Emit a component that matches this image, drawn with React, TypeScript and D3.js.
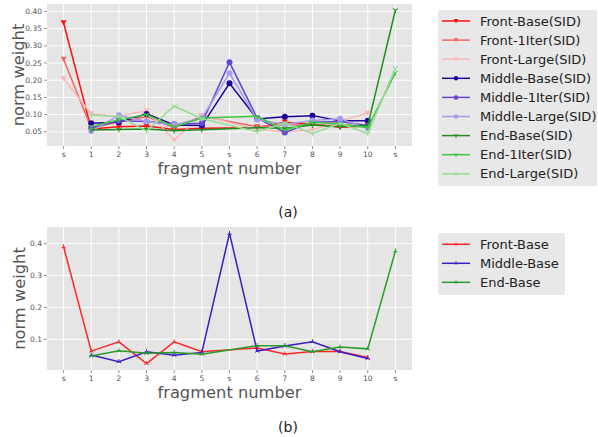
import React from "react";
import * as d3 from "d3";

const categories = ["s", "1", "2", "3", "4", "5", "s", "6", "7", "8", "9", "10", "s"];
const frontPos = [0, 1, 2, 3, 4, 5, 7, 8, 9, 10, 11];
const middlePos = [1, 2, 3, 4, 5, 6, 7, 8, 9, 10, 11];
const endPos = [1, 2, 3, 4, 5, 7, 8, 9, 10, 11, 12];

// (a)
const frontBaseSID = [0.367, 0.058, 0.065, 0.067, 0.057, 0.06, 0.062, 0.078, 0.073, 0.063, 0.067];
const front1IterSID = [0.261, 0.06, 0.08, 0.094, 0.062, 0.095, 0.065, 0.07, 0.07, 0.068, 0.07];
const frontLargeSID = [0.205, 0.102, 0.095, 0.111, 0.026, 0.097, 0.057, 0.05, 0.055, 0.082, 0.104];
const middleBaseSID = [0.075, 0.078, 0.102, 0.07, 0.068, 0.191, 0.087, 0.094, 0.097, 0.082, 0.082];
const middle1IterSID = [0.062, 0.082, 0.08, 0.072, 0.075, 0.252, 0.09, 0.048, 0.078, 0.08, 0.068];
const middleLargeSID = [0.052, 0.098, 0.08, 0.07, 0.09, 0.22, 0.085, 0.072, 0.083, 0.088, 0.06];
const endBaseSID = [0.055, 0.057, 0.058, 0.053, 0.056, 0.062, 0.06, 0.07, 0.065, 0.068, 0.404];
const end1IterSID = [0.065, 0.085, 0.1, 0.065, 0.09, 0.095, 0.055, 0.078, 0.073, 0.062, 0.222];
const endLargeSID = [0.098, 0.095, 0.052, 0.125, 0.088, 0.05, 0.075, 0.045, 0.075, 0.045, 0.235];

// (b)
const frontBase = [0.39, 0.063, 0.092, 0.024, 0.092, 0.061, 0.073, 0.054, 0.062, 0.062, 0.043];
const middleBase = [0.051, 0.03, 0.061, 0.05, 0.059, 0.432, 0.063, 0.079, 0.092, 0.061, 0.04];
const endBase = [0.048, 0.064, 0.056, 0.059, 0.053, 0.08, 0.08, 0.061, 0.076, 0.07, 0.377];

const ticksA = [0.05, 0.1, 0.15, 0.2, 0.25, 0.3, 0.35, 0.4];
const ticksB = [0.1, 0.2, 0.3, 0.4];

type Marker = "down" | "circle" | "tri1" | "tri2";
type Series = { name: string; pos: number[]; values: number[]; color: string; marker: Marker };

const seriesA: Series[] = [
  { name: "Front-Base(SID)", pos: frontPos, values: frontBaseSID, color: "#FF1010", marker: "down" },
  { name: "Front-1Iter(SID)", pos: frontPos, values: front1IterSID, color: "#F26666", marker: "down" },
  { name: "Front-Large(SID)", pos: frontPos, values: frontLargeSID, color: "#FBB8B8", marker: "down" },
  { name: "Middle-Base(SID)", pos: middlePos, values: middleBaseSID, color: "#20009A", marker: "circle" },
  { name: "Middle-1Iter(SID)", pos: middlePos, values: middle1IterSID, color: "#6545D2", marker: "circle" },
  { name: "Middle-Large(SID)", pos: middlePos, values: middleLargeSID, color: "#A99CEA", marker: "circle" },
  { name: "End-Base(SID)", pos: endPos, values: endBaseSID, color: "#1E8C1E", marker: "tri1" },
  { name: "End-1Iter(SID)", pos: endPos, values: end1IterSID, color: "#3CC83C", marker: "tri1" },
  { name: "End-Large(SID)", pos: endPos, values: endLargeSID, color: "#94DE94", marker: "tri1" },
];

const seriesB: Series[] = [
  { name: "Front-Base", pos: frontPos, values: frontBase, color: "#FF2626", marker: "tri2" },
  { name: "Middle-Base", pos: middlePos, values: middleBase, color: "#3D1CC0", marker: "tri2" },
  { name: "End-Base", pos: endPos, values: endBase, color: "#2A9A2A", marker: "tri2" },
];

const FONT = "DejaVu Sans, Verdana, sans-serif";

function MarkerShape({ m, x, y, color, size }: { m: Marker; x: number; y: number; color: string; size: number }) {
  if (m === "down") {
    const s = size;
    return <path d={`M${x - s},${y - s * 0.85}L${x + s},${y - s * 0.85}L${x},${y + s * 0.95}Z`} fill={color} />;
  }
  if (m === "circle") return <circle cx={x} cy={y} r={size} fill={color} />;
  if (m === "tri1") {
    const s = size;
    return (
      <path
        d={`M${x},${y}L${x},${y + s}M${x},${y}L${x - s * 0.87},${y - s * 0.5}M${x},${y}L${x + s * 0.87},${y - s * 0.5}`}
        stroke={color}
        strokeWidth={1}
        fill="none"
      />
    );
  }
  const s = size;
  return (
    <path
      d={`M${x},${y}L${x},${y - s}M${x},${y}L${x - s * 0.87},${y + s * 0.5}M${x},${y}L${x + s * 0.87},${y + s * 0.5}`}
      stroke={color}
      strokeWidth={1}
      fill="none"
    />
  );
}

type ChartProps = {
  series: Series[];
  left: number; right: number; top: number; bottom: number;
  yDomain: [number, number];
  yTicks: number[];
  yFormat: string;
  markerSize: number;
  yLabelX: number;
  xTickY: number;
  xLabelY: number;
  captionY: number;
  caption: string;
  legend: { x: number; y: number; w: number; h: number; y0: number; step: number };
};

function Chart(p: ChartProps) {
  const x = d3.scaleLinear().domain([-0.6, 12.6]).range([p.left, p.right]);
  const y = d3.scaleLinear().domain(p.yDomain).range([p.bottom, p.top]);
  const fmt = d3.format(p.yFormat);
  const line = d3.line<[number, number]>().x((d) => x(d[0])).y((d) => y(d[1]));
  const idx = d3.range(categories.length);
  return (
    <g>
      <rect x={p.left} y={p.top} width={p.right - p.left} height={p.bottom - p.top} fill="#E5E5E5" />
      {idx.map((i) => (
        <line key={"gx" + i} x1={x(i)} x2={x(i)} y1={p.top} y2={p.bottom} stroke="#fff" strokeWidth={1} />
      ))}
      {p.yTicks.map((t) => (
        <line key={"gy" + t} x1={p.left} x2={p.right} y1={y(t)} y2={y(t)} stroke="#fff" strokeWidth={1} />
      ))}
      {idx.map((i) => (
        <g key={"tx" + i}>
          <line x1={x(i)} x2={x(i)} y1={p.bottom} y2={p.bottom + 3} stroke="#777" strokeWidth={0.8} />
          <text x={x(i)} y={p.xTickY} fontSize={7.5} fill="#555" textAnchor="middle" fontFamily={FONT}>
            {categories[i]}
          </text>
        </g>
      ))}
      {p.yTicks.map((t) => (
        <g key={"ty" + t}>
          <line x1={p.left - 3} x2={p.left} y1={y(t)} y2={y(t)} stroke="#777" strokeWidth={0.8} />
          <text x={p.left - 5} y={y(t)} dy="0.35em" fontSize={7.5} fill="#555" textAnchor="end" fontFamily={FONT}>
            {fmt(t)}
          </text>
        </g>
      ))}
      <text
        transform={`translate(${p.yLabelX},${(p.top + p.bottom) / 2}) rotate(-90)`}
        fontSize={16.3}
        fill="#555"
        textAnchor="middle"
        dy="0.35em"
        fontFamily={FONT}
      >
        norm weight
      </text>
      <text x={(p.left + p.right) / 2} y={p.xLabelY} fontSize={16.3} fill="#555" textAnchor="middle" fontFamily={FONT}>
        fragment number
      </text>
      <text x={288} y={p.captionY} fontSize={14} fill="#222" textAnchor="middle" fontFamily={FONT}>
        {p.caption}
      </text>
      {p.series.map((s) => {
        const pts = s.pos.map((ps, i) => [ps, s.values[i]] as [number, number]);
        return (
          <g key={s.name}>
            <path d={line(pts) || ""} fill="none" stroke={s.color} strokeWidth={1.5} />
            {pts.map((d, i) => (
              <MarkerShape key={i} m={s.marker} x={x(d[0])} y={y(d[1])} color={s.color} size={p.markerSize} />
            ))}
          </g>
        );
      })}
      <rect x={p.legend.x} y={p.legend.y} width={p.legend.w} height={p.legend.h} rx={3} fill="#E8E8E8" />
      {p.series.map((s, i) => {
        const ly = p.legend.y0 + i * p.legend.step;
        return (
          <g key={"lg" + s.name}>
            <line x1={442} x2={470} y1={ly} y2={ly} stroke={s.color} strokeWidth={1.5} />
            <MarkerShape m={s.marker} x={456} y={ly} color={s.color} size={p.markerSize * 0.75} />
            <text x={480} y={ly} dy="0.36em" fontSize={13} fill="#222" fontFamily={FONT}>
              {s.name}
            </text>
          </g>
        );
      })}
    </g>
  );
}

export default function App() {
  return (
    <svg width={598} height={437} style={{ display: "block", position: "absolute", left: 0, top: 0 }}>
      <rect width={598} height={437} fill="#fff" />
      <Chart
        series={seriesA}
        left={47}
        right={412}
        top={4}
        bottom={146}
        yDomain={[3 / 344, 145 / 344]}
        yTicks={ticksA}
        yFormat=".2f"
        markerSize={3}
        yLabelX={18}
        xTickY={157}
        xLabelY={174}
        captionY={217}
        caption="(a)"
        legend={{ x: 438, y: 10, w: 159, h: 176, y0: 21, step: 19.1 }}
      />
      <Chart
        series={seriesB}
        left={47}
        right={412}
        top={227}
        bottom={370}
        yDomain={[1.2 / 319, 144.2 / 319]}
        yTicks={ticksB}
        yFormat=".1f"
        markerSize={2.5}
        yLabelX={19}
        xTickY={381}
        xLabelY={398}
        captionY={432}
        caption="(b)"
        legend={{ x: 438, y: 233, w: 127, h: 62, y0: 244.3, step: 19 }}
      />
    </svg>
  );
}
